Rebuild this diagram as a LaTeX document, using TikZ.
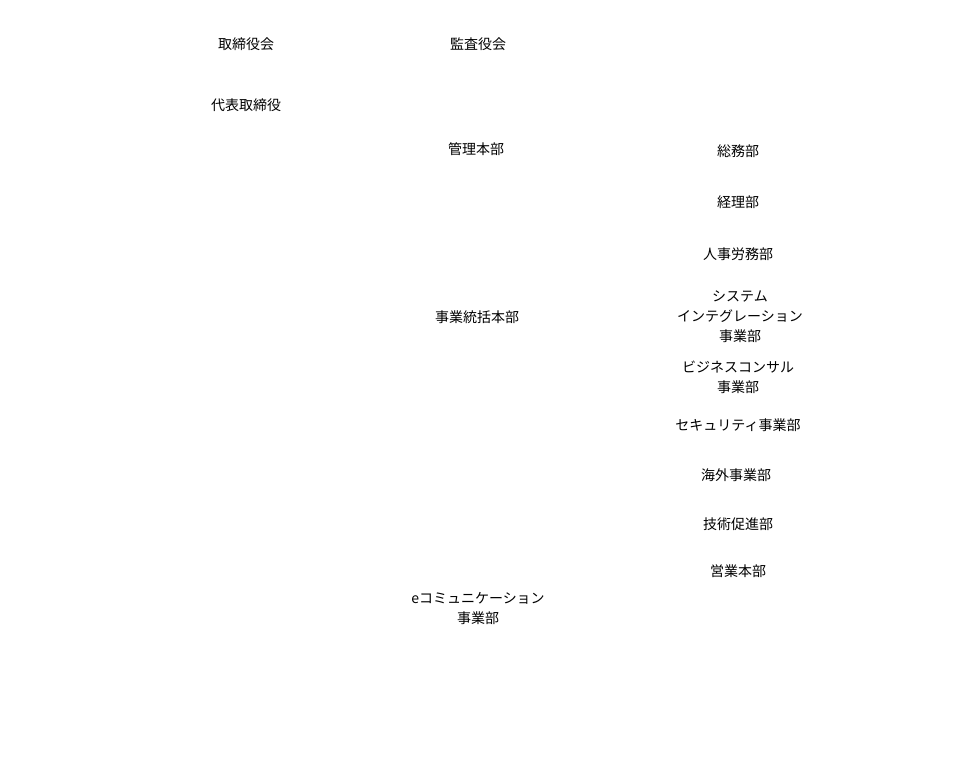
\documentclass[tikz,border=0pt]{standalone}
\usepackage{fontspec}
\newfontfamily\cjk{Noto Sans CJK JP}
\begin{document}
\begin{tikzpicture}[x=1pt,y=-1pt,
  lbl/.style={font=\cjk\fontsize{14}{20}\selectfont,align=center,inner sep=0pt,text=black}]
\useasboundingbox (0,0) rectangle (963,776);
\node[lbl] (a) at (246,44) {取締役会};
\node[lbl] (b) at (478,44) {監査役会};
\node[lbl] (c) at (246,105) {代表取締役};
\node[lbl] (d) at (476,149) {管理本部};
\node[lbl] (e) at (477,317) {事業統括本部};
\node[lbl] (f) at (478,609) {eコミュニケーション\\事業部};
\node[lbl] (g) at (738,151) {総務部};
\node[lbl] (h) at (738,202) {経理部};
\node[lbl] (i) at (738,254) {人事労務部};
\node[lbl] (j) at (740,317) {システム\\インテグレーション\\事業部};
\node[lbl] (k) at (738,377) {ビジネスコンサル\\事業部};
\node[lbl] (l) at (738,425) {セキュリティ事業部};
\node[lbl] (m) at (736,475) {海外事業部};
\node[lbl] (n) at (738,524) {技術促進部};
\node[lbl] (o) at (738,571) {営業本部};
\end{tikzpicture}
\end{document}
